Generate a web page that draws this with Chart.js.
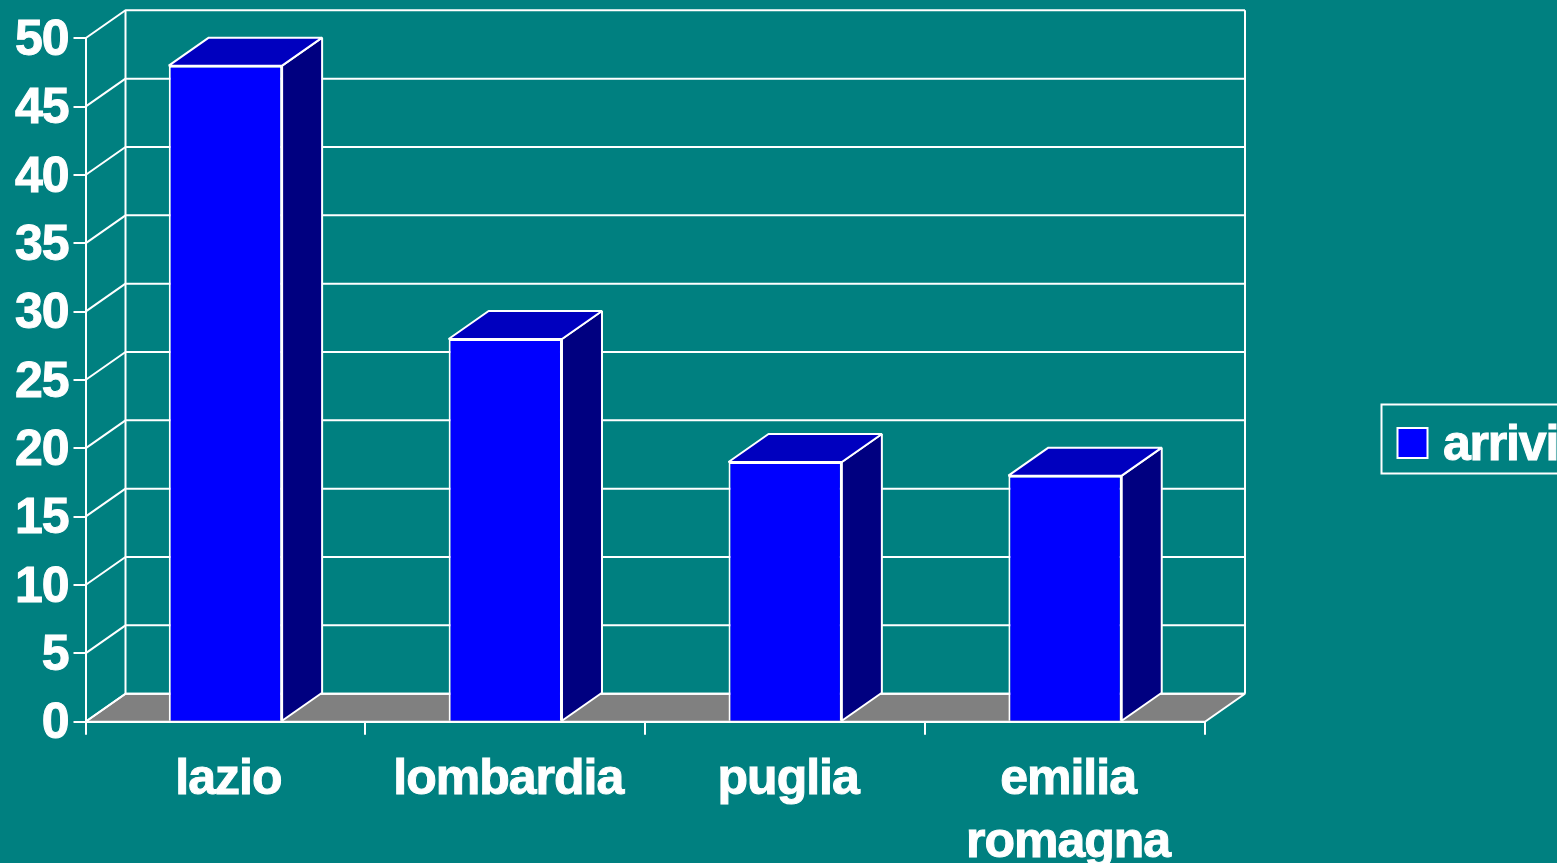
<!DOCTYPE html>
<html>
<head>
<meta charset="utf-8">
<title>arrivi</title>
<script src="https://cdn.jsdelivr.net/npm/chart.js@4"></script>
<style>
    html, body { margin: 0; padding: 0; background: #008080; overflow: hidden; }
    #wrap { position: absolute; left: 0; top: 0; width: 1557px; height: 863px; }
</style>
</head>
<body>
<div id="wrap"><canvas id="chart"></canvas></div>
<script>
// dati
const categories = [['lazio'], ['lombardia'], ['puglia'], ['emilia', 'romagna']];
const seriesName = 'arrivi';
const arrivi = [48, 28, 19, 18];
const yTicks = [0, 5, 10, 15, 20, 25, 30, 35, 40, 45, 50];

// colori
const WHITE = '#FFFFFF';
const FRONT = '#0000FF';
const TOP = '#0000BF';
const SIDE = '#000080';
const FLOOR = '#808080';

// profondita' della prospettiva 3D
const DX = 40;
const DY = -28;
const LINE = 2;
const LABEL_FONT = { family: '"Liberation Sans", Arial, sans-serif', size: 50, weight: 'bold', lineHeight: 1.26 };

function poly(ctx, pts, fill) {
    ctx.beginPath();
    pts.forEach((p, i) => i ? ctx.lineTo(p[0], p[1]) : ctx.moveTo(p[0], p[1]));
    ctx.closePath();
    if (fill) { ctx.fillStyle = fill; ctx.fill(); }
    ctx.stroke();
}

// pareti, pavimento e griglia dietro le barre
const wallsPlugin = {
    id: 'walls',
    beforeDraw(chart) {
        // testo piu' stretto, come nell'originale
        chart.ctx.letterSpacing = '-1px';
    },
    beforeDatasetsDraw(chart) {
        const { ctx, scales: { x, y } } = chart;
        const l = x.left, r = x.right, b = y.getPixelForValue(0);
        ctx.save();
        ctx.strokeStyle = WHITE;
        ctx.lineWidth = LINE;
        ctx.lineJoin = 'bevel';
        poly(ctx, [[l, b], [l + DX, b + DY], [r + DX, b + DY], [r, b]], FLOOR);
        yTicks.forEach(v => {
            const py = y.getPixelForValue(v);
            ctx.beginPath();
            ctx.moveTo(l, py);
            ctx.lineTo(l + DX, py + DY);
            ctx.lineTo(r + DX, py + DY);
            ctx.stroke();
        });
        const t = y.getPixelForValue(50);
        ctx.beginPath();
        ctx.moveTo(l + DX, b + DY);
        ctx.lineTo(l + DX, t + DY);
        ctx.moveTo(r + DX, b + DY);
        ctx.lineTo(r + DX, t + DY);
        ctx.stroke();
        ctx.restore();
    },
    // lato e cima di ogni barra
    afterDatasetsDraw(chart) {
        const { ctx } = chart;
        ctx.save();
        ctx.strokeStyle = WHITE;
        ctx.lineWidth = LINE;
        ctx.lineJoin = 'bevel';
        chart.getDatasetMeta(0).data.forEach(bar => {
            const x0 = bar.x - bar.width / 2, x1 = bar.x + bar.width / 2;
            poly(ctx, [[x1, bar.y], [x1 + DX, bar.y + DY], [x1 + DX, bar.base + DY], [x1, bar.base]], SIDE);
            poly(ctx, [[x0, bar.y], [x0 + DX, bar.y + DY], [x1 + DX, bar.y + DY], [x1, bar.y]], TOP);
        });
        ctx.restore();
    },
    // legenda a destra, tagliata dal bordo come nell'originale
    afterDraw(chart) {
        const { ctx } = chart;
        ctx.save();
        ctx.strokeStyle = WHITE;
        ctx.lineWidth = LINE;
        ctx.strokeRect(1381.5, 404.5, 200, 69);
        ctx.fillStyle = FRONT;
        ctx.fillRect(1397.5, 428, 30, 30);
        ctx.strokeRect(1397.5, 428, 30, 30);
        ctx.fillStyle = WHITE;
        ctx.letterSpacing = '-1.2px';
        ctx.lineWidth = 1;
        ctx.font = 'bold 50px "Liberation Sans", Arial, sans-serif';
        ctx.textBaseline = 'alphabetic';
        ctx.textAlign = 'left';
        const name = chart.data.datasets[0].label;
        ctx.fillText(name, 1443, 460);
        ctx.strokeText(name, 1443, 460);
        ctx.restore();
    }
};

new Chart(document.getElementById('chart'), {
    type: 'bar',
    data: {
        labels: categories,
        datasets: [{
            label: seriesName,
            data: arrivi,
            backgroundColor: FRONT,
            borderColor: WHITE,
            borderWidth: LINE,
            categoryPercentage: 1,
            barPercentage: 0.405
        }]
    },
    options: {
        responsive: true,
        maintainAspectRatio: false,
        animation: false,
        layout: { padding: { left: 0, top: 38.3, right: 352, bottom: 0 } },
        plugins: { legend: { display: false }, tooltip: { enabled: false } },
        scales: {
            x: {
                grid: { display: true, offset: true, drawOnChartArea: false, color: WHITE, lineWidth: LINE, tickLength: 13 },
                border: { color: WHITE, width: LINE },
                ticks: {
                    color: WHITE, font: LABEL_FONT, maxRotation: 0, autoSkip: false,
                    padding: 14, labelOffset: 3, textStrokeColor: WHITE, textStrokeWidth: 1
                },
                afterFit(scale) { scale.height = 141.3; }
            },
            y: {
                min: 0,
                max: 50,
                grid: { drawOnChartArea: false, color: WHITE, lineWidth: LINE, tickLength: 12 },
                border: { color: WHITE, width: LINE },
                afterBuildTicks(scale) { scale.ticks = yTicks.map(v => ({ value: v })); },
                ticks: {
                    color: WHITE, font: LABEL_FONT, padding: 5, labelOffset: 3,
                    textStrokeColor: WHITE, textStrokeWidth: 1
                },
                afterFit(scale) { scale.width = 85.5; }
            }
        }
    },
    plugins: [wallsPlugin]
});
</script>
</body>
</html>
